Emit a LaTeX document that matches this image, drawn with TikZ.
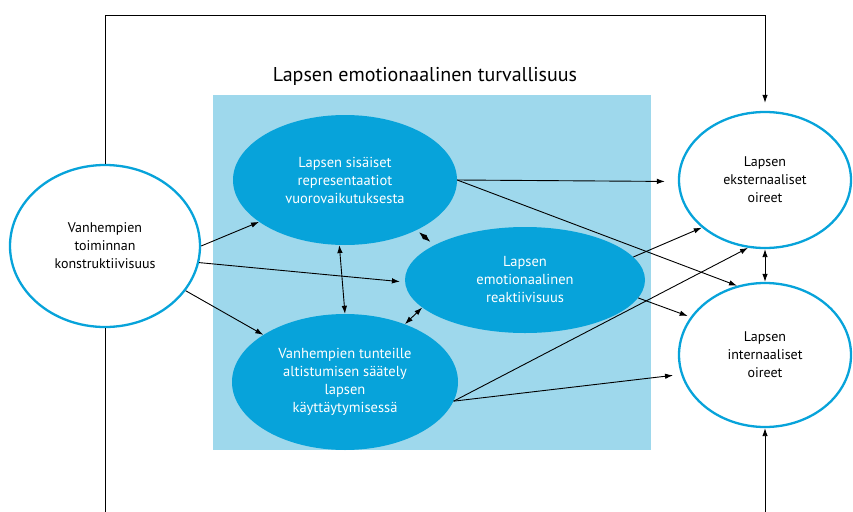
\documentclass[tikz,border=0pt]{standalone}
\usepackage{fontspec}
\setmainfont{PT Sans}
\usetikzlibrary{shapes.geometric,arrows.meta}
\definecolor{blu}{HTML}{07A3DA}
\definecolor{lblu}{HTML}{9ED8EC}

\begin{document}
\begin{tikzpicture}[x=1pt,y=-1pt,>={Latex[length=8pt,width=5.5pt]},
  font=\fontsize{14}{18}\selectfont,
  wel/.style={ellipse,draw=blu,line width=2.3pt,fill=white,inner sep=0pt,align=center},
  bel/.style={ellipse,fill=blu,text=white,inner sep=0pt,align=center,
    font=\fontsize{14.5}{18}\selectfont},
  arr/.style={line width=0.9pt}]
  \useasboundingbox (0,0) rectangle (853,511);
  \clip (0,0) rectangle (853,511);
  \fill[lblu] (213,95) rectangle (651,450);
  \node[font=\fontsize{20}{22}\selectfont] (title) at (425,76) {Lapsen emotionaalinen turvallisuus};
  % left and right ellipses
  \node[wel,minimum width=190,minimum height=162] (vt) at (105,246) {Vanhempien\\toiminnan\\konstruktiivisuus};
  \node[wel,minimum width=172,minimum height=136] (eo) at (765,180) {Lapsen\\eksternaaliset\\oireet};
  \node[wel,minimum width=172,minimum height=144] (io) at (765,355) {Lapsen\\internaaliset\\oireet};
  % inner ellipses
  \node[bel,minimum width=224,minimum height=130] (sr) at (345,180) {Lapsen sisäiset\\representaatiot\\vuorovaikutuksesta};
  \node[bel,minimum width=240,minimum height=106] (er) at (525,280) {Lapsen\\emotionaalinen\\reaktiivisuus};
  \node[bel,minimum width=226,minimum height=136] (ts) at (345,382) {Vanhempien tunteille\\altistumisen säätely\\lapsen\\käyttäytymisessä};
  % long lines round the frame
  \coordinate (ceil) at (0,15);
  \coordinate (floor) at (0,530);
  \draw[arr,->,shorten >=8pt] (vt.north) -- (vt.north |- ceil) -| (eo.north);
  \draw[arr] (vt.south) -- (vt.south |- floor);
  \draw[arr,->] (io.south |- floor) -- (io.south);
  % paths
  \draw[arr,->] (vt.east) -- (sr.206);
  \draw[arr,->,shorten >=5pt] (vt.-10) -- (er.181);
  \draw[arr,->] (vt.-29) -- (ts.150);
  \draw[arr,<->] (sr.265) -- (ts.north);
  \draw[arr,<->,shorten <=3pt,shorten >=5pt] (sr.-35) -- (er.159);
  \draw[arr,<->] (ts.44) -- (er.195);
  \draw[arr,->,shorten >=13pt] (sr.east) -- (eo.181);
  \draw[arr,->] (sr.east) -- (io.112);
  \draw[arr,->] (er.12) -- (eo.217);
  \draw[arr,->,shorten >=3pt] (er.-9) -- (io.153);
  \draw[arr,->] (ts.-10) -- (eo.256);
  \draw[arr,->,shorten >=8pt] (ts.-10) -- (io.193);
  \draw[arr,<->] (eo.south) -- (io.north);
\end{tikzpicture}
\end{document}
